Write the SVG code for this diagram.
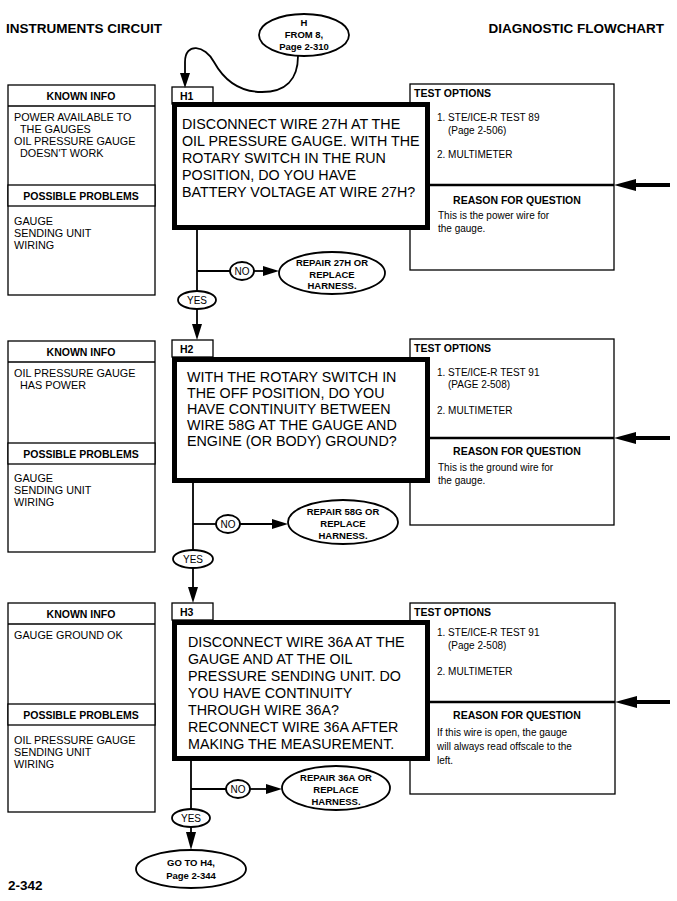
<svg xmlns="http://www.w3.org/2000/svg" width="677" height="901" viewBox="0 0 677 901">
<style>
.t{font-family:"Liberation Sans",Arial,sans-serif;fill:#000}
.title{font-size:13.5px;font-weight:bold}
.hd{font-size:10.5px;font-weight:bold}
.bd{font-size:10.8px}
.q{font-size:14.3px}
.ov{font-size:9.5px;font-weight:bold}
.yn{font-size:10px}
.rs{font-size:10px}
.box{fill:#fff;stroke:#000;stroke-width:1.3}
.main{fill:#fff;stroke:#000;stroke-width:5}
.oval{fill:#fff;stroke:#000;stroke-width:1.8}
.ln{fill:none;stroke:#000;stroke-width:1.8}
.thin{stroke:#000;stroke-width:1.3}
.div{stroke:#000;stroke-width:2.5}
.bar{stroke:#000;stroke-width:4}
.ah{fill:#000}
</style>
<text class="t title" x="6" y="33">INSTRUMENTS CIRCUIT</text>
<text class="t title" x="664" y="33" text-anchor="end">DIAGNOSTIC FLOWCHART</text>
<text class="t title" x="8" y="890">2-342</text>

<g id="start">
<ellipse class="oval" cx="304" cy="35" rx="45" ry="21"/>
<text class="t ov" x="304" y="26" text-anchor="middle">H</text>
<text class="t ov" x="304" y="38" text-anchor="middle">FROM 8,</text>
<text class="t ov" x="304" y="50" text-anchor="middle">Page 2-310</text>
</g>

<!-- H1 -->
<g id="h1-info">
<rect class="box" x="8" y="85" width="147" height="210"/>
<line class="thin" x1="8" y1="106" x2="155" y2="106"/>
<rect class="box" x="8" y="185" width="147" height="21"/>
<text class="t hd" x="81" y="100" text-anchor="middle">KNOWN INFO</text>
<text class="t bd" x="14" y="121">POWER AVAILABLE TO</text>
<text class="t bd" x="20" y="133">THE GAUGES</text>
<text class="t bd" x="14" y="145">OIL PRESSURE GAUGE</text>
<text class="t bd" x="20" y="157">DOESN'T WORK</text>
<text class="t hd" x="81" y="199.5" text-anchor="middle">POSSIBLE PROBLEMS</text>
<text class="t bd" x="14" y="225">GAUGE</text>
<text class="t bd" x="14" y="237">SENDING UNIT</text>
<text class="t bd" x="14" y="249">WIRING</text>
</g>
<g id="h1-test">
<rect class="box" x="410" y="84" width="204" height="186"/>
<text class="t hd" x="414" y="97">TEST OPTIONS</text>
<text class="t rs" x="437" y="121">1. STE/ICE-R TEST 89</text>
<text class="t rs" x="448" y="134">(Page 2-506)</text>
<text class="t rs" x="437" y="158">2. MULTIMETER</text>
<line class="div" x1="430" y1="185" x2="614" y2="185"/>
<text class="t hd" x="517" y="204" text-anchor="middle">REASON FOR QUESTION</text>
<text class="t rs" x="438" y="219">This is the power wire for</text>
<text class="t rs" x="438" y="232">the gauge.</text>
</g>
<g id="h1">
<rect class="box" x="172" y="87" width="41" height="17"/>
<text class="t hd" x="180" y="99.5">H1</text>
<rect class="main" x="174.5" y="104.5" width="253" height="123"/>
<text class="t q" x="182" y="129">DISCONNECT WIRE 27H AT THE</text>
<text class="t q" x="182" y="146">OIL PRESSURE GAUGE. WITH THE</text>
<text class="t q" x="182" y="163">ROTARY SWITCH IN THE RUN</text>
<text class="t q" x="182" y="180">POSITION, DO YOU HAVE</text>
<text class="t q" x="182" y="197">BATTERY VOLTAGE AT WIRE 27H?</text>
</g>
<g id="h1-no">
<ellipse class="oval" cx="242" cy="271" rx="12" ry="9"/>
<text class="t yn" x="242" y="274.5" text-anchor="middle">NO</text>
</g>
<g id="h1-repair">
<ellipse class="oval" cx="332" cy="273" rx="53" ry="21"/>
<text class="t ov" x="332" y="266" text-anchor="middle">REPAIR  27H OR</text>
<text class="t ov" x="332" y="277.5" text-anchor="middle">REPLACE</text>
<text class="t ov" x="332" y="289" text-anchor="middle">HARNESS.</text>
</g>
<g id="h1-yes">
<ellipse class="oval" cx="197" cy="300" rx="19" ry="9"/>
<text class="t yn" x="197" y="303.5" text-anchor="middle">YES</text>
</g>

<!-- H2 -->
<g id="h2-info">
<rect class="box" x="8" y="341" width="147" height="211"/>
<line class="thin" x1="8" y1="362" x2="155" y2="362"/>
<rect class="box" x="8" y="443" width="147" height="21"/>
<text class="t hd" x="81" y="356" text-anchor="middle">KNOWN INFO</text>
<text class="t bd" x="14" y="377">OIL PRESSURE GAUGE</text>
<text class="t bd" x="20" y="389">HAS POWER</text>
<text class="t hd" x="81" y="457.5" text-anchor="middle">POSSIBLE PROBLEMS</text>
<text class="t bd" x="14" y="482">GAUGE</text>
<text class="t bd" x="14" y="494">SENDING UNIT</text>
<text class="t bd" x="14" y="506">WIRING</text>
</g>
<g id="h2-test">
<rect class="box" x="410" y="339" width="204" height="186"/>
<text class="t hd" x="414" y="352">TEST OPTIONS</text>
<text class="t rs" x="437" y="376">1. STE/ICE-R TEST 91</text>
<text class="t rs" x="448" y="388">(PAGE 2-508)</text>
<text class="t rs" x="437" y="414">2. MULTIMETER</text>
<line class="div" x1="430" y1="438" x2="614" y2="438"/>
<text class="t hd" x="517" y="455" text-anchor="middle">REASON FOR QUESTION</text>
<text class="t rs" x="438" y="471">This is the ground wire for</text>
<text class="t rs" x="438" y="484">the gauge.</text>
</g>
<g id="h2">
<rect class="box" x="172" y="340" width="41" height="17"/>
<text class="t hd" x="180" y="352.5">H2</text>
<rect class="main" x="174.5" y="359.5" width="253" height="121"/>
<text class="t q" x="187" y="382">WITH THE ROTARY SWITCH IN</text>
<text class="t q" x="187" y="398">THE OFF POSITION, DO YOU</text>
<text class="t q" x="187" y="414">HAVE CONTINUITY BETWEEN</text>
<text class="t q" x="187" y="430">WIRE 58G AT THE GAUGE AND</text>
<text class="t q" x="187" y="446">ENGINE (OR BODY) GROUND?</text>
</g>
<g id="h2-no">
<ellipse class="oval" cx="228" cy="524" rx="12" ry="9"/>
<text class="t yn" x="228" y="527.5" text-anchor="middle">NO</text>
</g>
<g id="h2-repair">
<ellipse class="oval" cx="343" cy="522" rx="55" ry="22"/>
<text class="t ov" x="343" y="515" text-anchor="middle">REPAIR  58G OR</text>
<text class="t ov" x="343" y="527" text-anchor="middle">REPLACE</text>
<text class="t ov" x="343" y="539" text-anchor="middle">HARNESS.</text>
</g>
<g id="h2-yes">
<ellipse class="oval" cx="193" cy="559" rx="20" ry="9"/>
<text class="t yn" x="193" y="562.5" text-anchor="middle">YES</text>
</g>

<!-- H3 -->
<g id="h3-info">
<rect class="box" x="8" y="603" width="147" height="209"/>
<line class="thin" x1="8" y1="624" x2="155" y2="624"/>
<rect class="box" x="8" y="704" width="147" height="21"/>
<text class="t hd" x="81" y="618" text-anchor="middle">KNOWN INFO</text>
<text class="t bd" x="14" y="639">GAUGE GROUND OK</text>
<text class="t hd" x="81" y="718.5" text-anchor="middle">POSSIBLE PROBLEMS</text>
<text class="t bd" x="14" y="744">OIL PRESSURE GAUGE</text>
<text class="t bd" x="14" y="756">SENDING UNIT</text>
<text class="t bd" x="14" y="768">WIRING</text>
</g>
<g id="h3-test">
<rect class="box" x="410" y="603" width="205" height="191"/>
<text class="t hd" x="414" y="616">TEST OPTIONS</text>
<text class="t rs" x="437" y="636">1. STE/ICE-R TEST 91</text>
<text class="t rs" x="448" y="649">(Page 2-508)</text>
<text class="t rs" x="437" y="675">2. MULTIMETER</text>
<line class="div" x1="430" y1="702" x2="615" y2="702"/>
<text class="t hd" x="517" y="719" text-anchor="middle">REASON FOR QUESTION</text>
<text class="t rs" x="437" y="736">If this wire is open, the gauge</text>
<text class="t rs" x="437" y="750">will always read offscale to the</text>
<text class="t rs" x="437" y="764">left.</text>
</g>
<g id="h3">
<rect class="box" x="172" y="603" width="41" height="17"/>
<text class="t hd" x="180" y="615.5">H3</text>
<rect class="main" x="174.5" y="622.5" width="253" height="136"/>
<text class="t q" x="188" y="647">DISCONNECT WIRE 36A AT THE</text>
<text class="t q" x="188" y="664">GAUGE AND AT THE OIL</text>
<text class="t q" x="188" y="681">PRESSURE SENDING UNIT. DO</text>
<text class="t q" x="188" y="698">YOU HAVE CONTINUITY</text>
<text class="t q" x="188" y="715">THROUGH WIRE 36A?</text>
<text class="t q" x="188" y="732">RECONNECT WIRE 36A AFTER</text>
<text class="t q" x="188" y="749">MAKING THE MEASUREMENT.</text>
</g>
<g id="h3-no">
<ellipse class="oval" cx="238" cy="789" rx="12" ry="9"/>
<text class="t yn" x="238" y="792.5" text-anchor="middle">NO</text>
</g>
<g id="h3-repair">
<ellipse class="oval" cx="336" cy="788" rx="54" ry="22"/>
<text class="t ov" x="336" y="781" text-anchor="middle">REPAIR 36A OR</text>
<text class="t ov" x="336" y="793" text-anchor="middle">REPLACE</text>
<text class="t ov" x="336" y="805" text-anchor="middle">HARNESS.</text>
</g>
<g id="h3-yes">
<ellipse class="oval" cx="191" cy="818" rx="19" ry="9"/>
<text class="t yn" x="191" y="821.5" text-anchor="middle">YES</text>
</g>
<g id="goto-h4">
<ellipse class="oval" cx="191" cy="869" rx="55" ry="19"/>
<text class="t ov" x="191" y="866" text-anchor="middle">GO TO H4,</text>
<text class="t ov" x="191" y="879" text-anchor="middle">Page 2-344</text>
</g>

<g id="connectors">
<path class="ln" d="M298,56 C298,80 285,92 262,92 C240,92 224,80 214,62 C205,45 185,42 185,62 L185,76"/>
<polygon class="ah" points="185,88 180,73 190,73"/>
<!-- H1 -->
<line class="ln" x1="197" y1="230" x2="197" y2="291"/>
<line class="ln" x1="197" y1="271" x2="230" y2="271"/>
<line class="ln" x1="254" y1="271" x2="267" y2="271"/>
<polygon class="ah" points="279,271 263,266 263,276"/>
<line class="ln" x1="197" y1="309" x2="197" y2="326"/>
<polygon class="ah" points="197,340 192,324 202,324"/>
<line class="bar" x1="632" y1="185" x2="670" y2="185"/>
<polygon class="ah" points="614,185 636,179 636,191"/>
<!-- H2 -->
<line class="ln" x1="193" y1="483" x2="193" y2="550"/>
<line class="ln" x1="193" y1="524" x2="216" y2="524"/>
<line class="ln" x1="240" y1="524" x2="276" y2="524"/>
<polygon class="ah" points="288,524 272,519 272,529"/>
<line class="ln" x1="193" y1="568" x2="193" y2="590"/>
<polygon class="ah" points="193,603 188,587 198,587"/>
<line class="bar" x1="632" y1="438" x2="670" y2="438"/>
<polygon class="ah" points="614,438 636,432 636,444"/>
<!-- H3 -->
<line class="ln" x1="191" y1="761" x2="191" y2="809"/>
<line class="ln" x1="191" y1="789" x2="226" y2="789"/>
<line class="ln" x1="250" y1="789" x2="270" y2="789"/>
<polygon class="ah" points="282,789 266,784 266,794"/>
<line class="ln" x1="191" y1="827" x2="191" y2="836"/>
<polygon class="ah" points="191,850 186,832 196,832"/>
<line class="bar" x1="633" y1="702" x2="670" y2="702"/>
<polygon class="ah" points="615,702 637,696 637,708"/>
</g>
</svg>
